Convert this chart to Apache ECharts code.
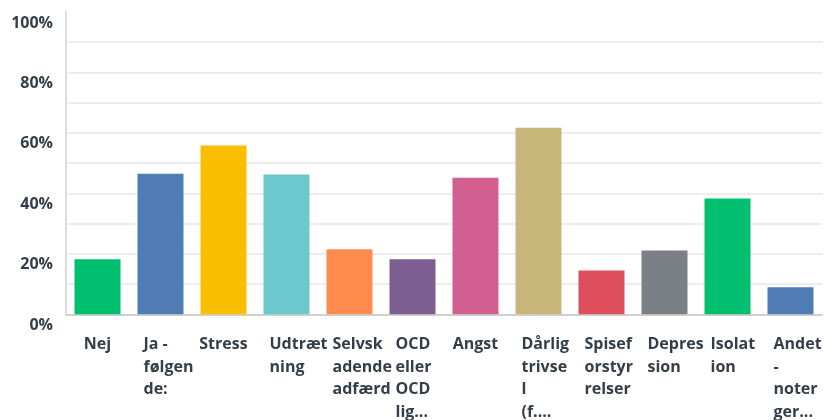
<!DOCTYPE html>
<html>
<head>
<meta charset="utf-8">
<script src="https://cdn.jsdelivr.net/npm/echarts@6/dist/echarts.min.js"></script>
<style>html,body{margin:0;padding:0;background:#fff}#c{width:825px;height:420px}</style>
</head>
<body>
<div id="c"></div>
<script>
const categories = ["Nej", "Ja -\nfølgen\nde:", "Stress", "Udtræt\nning", "Selvsk\nadende\nadfærd", "OCD\neller\nOCD\nlig...", "Angst", "Dårlig\ntrivse\nl\n(f....", "Spisef\norstyr\nrelser", "Depres\nsion", "Isolat\nion", "Andet\n-\nnoter\nger..."];
const values = [18.2, 46.5, 55.8, 46.2, 21.5, 18.2, 45.2, 61.7, 14.5, 21.1, 38.3, 8.9];
const colors = ["#00BF6F", "#507CB6", "#F9BE00", "#6BC8CD", "#FF8B4F", "#7D5E90", "#D25F90", "#C8B579", "#DE4E5C", "#7A8085", "#00BF6F", "#507CB6"];
const yTicks = [0, 20, 40, 60, 80, 100];

const textColor = "#333e48";
const font = "'Open Sans', sans-serif";

const chart = echarts.init(document.getElementById('c'), null, {renderer: 'canvas'});
const gridColors = [];
for (let i = 0; i <= 10; i++) gridColors.push(i === 10 ? 'rgba(0,0,0,0)' : '#ededed');

chart.setOption({
  animation: false,
  grid: {left: 66, right: 3, top: 12, bottom: 105, containLabel: false},
  xAxis: {
    type: 'category',
    data: categories,
    axisLine: {show: true, lineStyle: {color: '#d0d0d0', width: 2}},
    axisTick: {show: false},
    axisLabel: {
      interval: 0,
      margin: 19,
      formatter: function (v) {
        return v.indexOf('\n') >= 0 ? '{m|' + v + '}' : '{s|' + v + '}';
      },
      rich: {
        m: {width: 34, align: 'left', fontSize: 16, fontWeight: 'bold', fontFamily: font, color: textColor, lineHeight: 22.5},
        s: {align: 'center', fontSize: 16, fontWeight: 'bold', fontFamily: font, color: textColor, lineHeight: 22.5}
      }
    }
  },
  yAxis: {
    type: 'value',
    min: 0, max: 100, interval: 10,
    axisLine: {show: true, lineStyle: {color: '#dcdcdc', width: 2}},
    axisTick: {show: false},
    splitLine: {show: true, lineStyle: {color: gridColors, width: 2}},
    axisLabel: {
      margin: 13,
      verticalAlign: 'top',
      padding: [3, 0, 0, 0],
      fontSize: 16, fontWeight: 'bold', fontFamily: font, color: textColor,
      formatter: function (v) { return yTicks.indexOf(v) >= 0 ? v + '%' : ''; }
    }
  },
  series: [{
    type: 'bar',
    barWidth: '73%',
    data: values.map((v, i) => ({value: v, itemStyle: {color: colors[i]}}))
  }]
});
</script>
</body>
</html>
